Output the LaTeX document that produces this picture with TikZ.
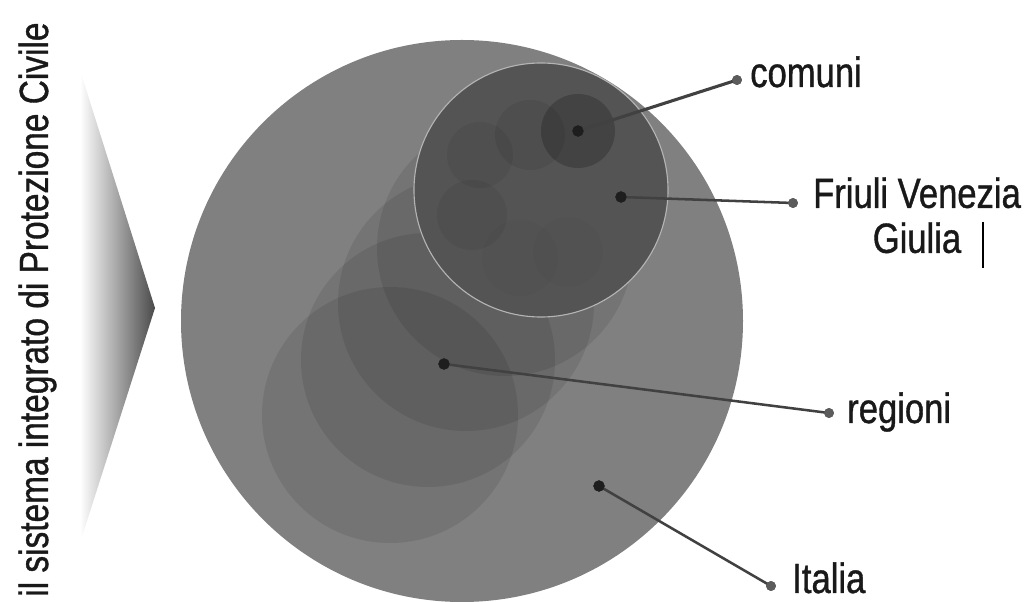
\documentclass[tikz,border=0pt]{standalone}
\usepackage{fontspec}
\setmainfont{Liberation Sans}[FakeStretch=0.82, FakeBold=0.9]

\definecolor{italiagrau}{HTML}{808080}
\definecolor{friuligrau}{HTML}{545454}
\definecolor{rahmengrau}{HTML}{B4B4B4}
\definecolor{punktdunkel}{HTML}{1E1E1E}
\definecolor{punkthell}{HTML}{5C5C5C}
\definecolor{liniengrau}{HTML}{414141}
\definecolor{pfeilgrau}{HTML}{4A4A4A}

\tikzset{
  innerdot/.style={circle, fill=punktdunkel, inner sep=0pt, minimum size=8pt},
  outerdot/.style={circle, fill=punkthell, inner sep=0pt, minimum size=7pt},
  leader/.style={draw=liniengrau, line width=1.8pt},
  etikett/.style={font=\fontsize{30}{32}\selectfont, text=black!90, inner sep=0pt},
  spur/.style={fill=black, fill opacity=0.09}
}

\begin{document}
\begin{tikzpicture}[x=0.025cm, y=-0.025cm]
        \useasboundingbox (0,0) rectangle (1028,602);

        % Titel links und Pfeil
        \node[etikett, font=\fontsize{29}{32}\selectfont, rotate=90, anchor=base west] (titel) at (48,597) {il sistema integrato di Protezione Civile};
        \shade[left color=white, right color=pfeilgrau] (80,70) -- (155,308) -- (80,543) -- cycle;

        % Italia
        \fill[italiagrau] (462,321) circle (281);

        % Regioni (Spur nach unten links)
        \fill[spur] (390,415) circle (128);
        \fill[spur] (428,360) circle (127);
        \fill[spur] (466,303) circle (128);
        \fill[spur] (505,248) circle (128);

        % Friuli Venezia Giulia
        \draw[fill=friuligrau, draw=rahmengrau, line width=0.8pt] (541,190) circle (127);

        % Comuni
        \fill[black, fill opacity=0.02] (520,258) circle (38);
        \fill[black, fill opacity=0.02] (568,252) circle (35);
        \fill[black, fill opacity=0.06] (472,215) circle (35);
        \fill[black, fill opacity=0.06] (480,155) circle (33);
        \fill[black, fill opacity=0.07] (530,135) circle (35);
        \fill[black, fill opacity=0.2] (578,131) circle (37);

        % Punkte
        \node[innerdot] (comuniIn) at (578,131) {};
        \node[outerdot] (comuniOut) at (737,80) {};
        \node[innerdot] (friuliIn) at (621,197) {};
        \node[outerdot] (friuliOut) at (793,203) {};
        \node[innerdot] (regioniIn) at (444,364) {};
        \node[outerdot] (regioniOut) at (829,413) {};
        \node[innerdot] (italiaIn) at (599,486) {};
        \node[outerdot] (italiaOut) at (771,586) {};

        % Linien
        \draw[leader, line width=2.2pt] (comuniIn.center) -- (comuniOut.center);
        \draw[leader] (friuliIn.center) -- (friuliOut.center);
        \draw[leader] (regioniIn.center) -- (regioniOut.center);
        \draw[leader] (italiaIn.center) -- (italiaOut.center);
        \node[innerdot] at (comuniIn) {};
        \node[innerdot] at (friuliIn) {};
        \node[innerdot] at (regioniIn) {};
        \node[innerdot] at (italiaIn) {};
        \node[outerdot] at (comuniOut) {};
        \node[outerdot] at (friuliOut) {};
        \node[outerdot] at (regioniOut) {};
        \node[outerdot] at (italiaOut) {};

        % Beschriftungen
        \node[etikett, anchor=base west] (comuni) at (750,87) {comuni};
        \node[etikett, anchor=north, align=center] (friuli) at (917,177) {Friuli Venezia\\Giulia};
        \node[etikett, anchor=base west] (regioni) at (847,423) {regioni};
        \node[etikett, anchor=base west] (italia) at (792,593) {Italia};
        \draw[black, line width=0.8pt] (983,222) -- (983,268); % Cursor
    \end{tikzpicture}
\end{document}
